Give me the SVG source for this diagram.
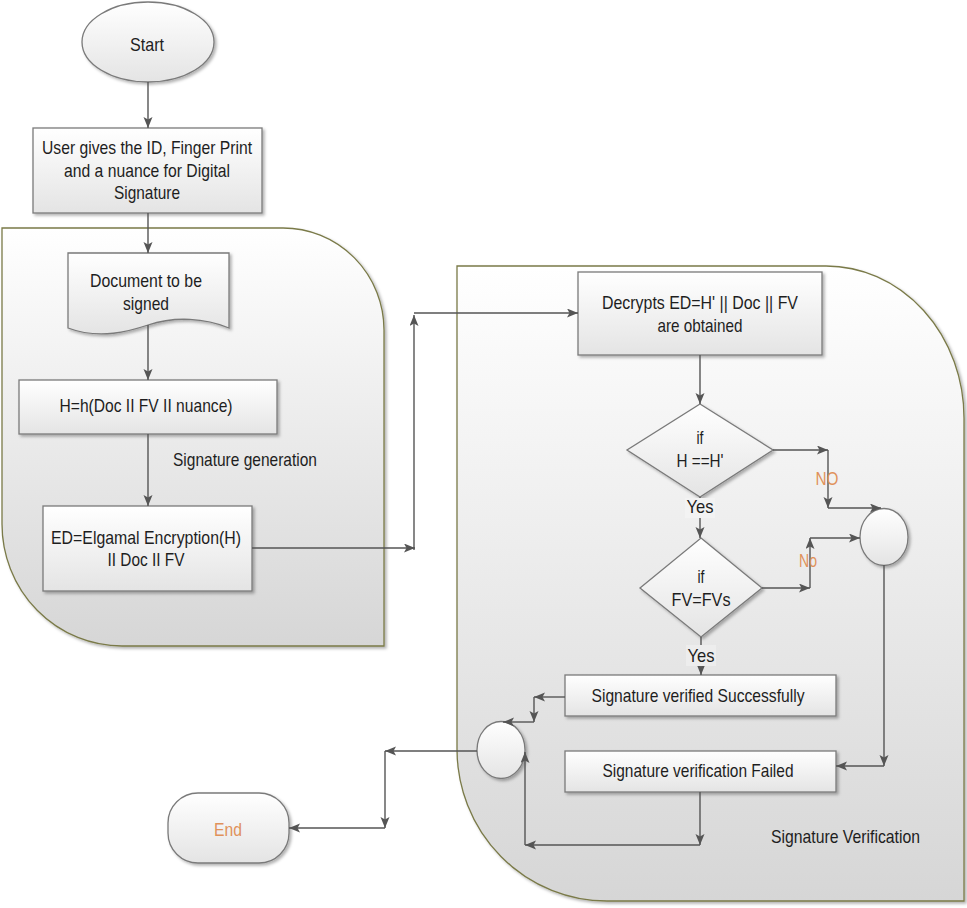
<svg xmlns="http://www.w3.org/2000/svg" width="967" height="908" viewBox="0 0 967 908">
<defs>
<linearGradient id="gRegion" x1="0" y1="0" x2="0" y2="1">
<stop offset="0" stop-color="#ffffff"/>
<stop offset="1" stop-color="#d6d6d6"/>
</linearGradient>
<linearGradient id="gBox" x1="0" y1="0" x2="0" y2="1">
<stop offset="0" stop-color="#ffffff"/>
<stop offset="1" stop-color="#e4e4e4"/>
</linearGradient>
<filter id="sh" x="-10%" y="-10%" width="130%" height="130%">
<feDropShadow dx="2" dy="2" stdDeviation="1.5" flood-color="#000" flood-opacity="0.3"/>
</filter>
<marker id="ah" markerUnits="userSpaceOnUse" markerWidth="12" markerHeight="10" refX="11" refY="4.5" orient="auto">
<path d="M0,0 L11,4.5 L0,9 L2.5,4.5 Z" fill="#555"/>
</marker>
</defs>
<style>
.region{fill:url(#gRegion);stroke:#7a7a48;stroke-width:1.3;filter:url(#sh)}
.box{fill:url(#gBox);stroke:#7a7a7a;stroke-width:1.3;filter:url(#sh)}
.conn path{fill:none;stroke:#555;stroke-width:1.4;marker-end:url(#ah)}
text{font-family:"Liberation Sans Narrow","Liberation Sans",Arial,sans-serif;font-size:19px;fill:#1e1e1e}
.c{text-anchor:middle}
.org{fill:#e0915a}
</style>

<g id="region-generation">
<path class="region" d="M 2 228 H 283 A 101 102 0 0 1 384 330 V 646 H 122 A 120 122 0 0 1 2 524 Z"/>
<text x="173" y="466" textLength="144" lengthAdjust="spacingAndGlyphs">Signature generation</text>
</g>
<g id="region-verification">
<path class="region" d="M 457 266 H 826 A 138 152 0 0 1 964 418 V 901 H 607 A 150 152 0 0 1 457 749 Z"/>
<text x="771" y="843" textLength="149" lengthAdjust="spacingAndGlyphs">Signature Verification</text>
</g>

<g id="start">
<ellipse class="box" cx="148" cy="42" rx="66" ry="40"/>
<text class="c" x="147" y="51" textLength="34" lengthAdjust="spacingAndGlyphs">Start</text>
</g>
<g id="user-input">
<rect class="box" x="33" y="128" width="229" height="85"/>
<text class="c" x="147" y="154" textLength="210" lengthAdjust="spacingAndGlyphs">User gives the ID, Finger Print</text>
<text class="c" x="147" y="177" textLength="166" lengthAdjust="spacingAndGlyphs">and a nuance for Digital</text>
<text class="c" x="147" y="199" textLength="66" lengthAdjust="spacingAndGlyphs">Signature</text>
</g>
<g id="document">
<path class="box" d="M 68 253 H 229 V 328 C 205 318 175 316 148 325 C 130 331 100 340 68 328 Z"/>
<text class="c" x="146" y="287" textLength="112" lengthAdjust="spacingAndGlyphs">Document to be</text>
<text class="c" x="146" y="310" textLength="46" lengthAdjust="spacingAndGlyphs">signed</text>
</g>
<g id="hash">
<rect class="box" x="19" y="380" width="258" height="54"/>
<text class="c" x="146" y="412" textLength="173" lengthAdjust="spacingAndGlyphs">H=h(Doc II FV II nuance)</text>
</g>
<g id="encrypt">
<rect class="box" x="43" y="506" width="209" height="85"/>
<text class="c" x="146" y="544" textLength="190" lengthAdjust="spacingAndGlyphs">ED=Elgamal Encryption(H)</text>
<text class="c" x="146" y="566" textLength="77" lengthAdjust="spacingAndGlyphs">II Doc II FV</text>
</g>
<g id="decrypt">
<rect class="box" x="578" y="272" width="244" height="83"/>
<text class="c" x="700" y="309" textLength="196" lengthAdjust="spacingAndGlyphs">Decrypts ED=H' || Doc || FV</text>
<text class="c" x="700" y="332" textLength="85" lengthAdjust="spacingAndGlyphs">are obtained</text>
</g>
<g id="decision-hash">
<path class="box" d="M 700 404 L 773 450 L 700 497 L 627 450 Z"/>
<text class="c" x="700" y="444" textLength="7" lengthAdjust="spacingAndGlyphs">if</text>
<text class="c" x="700" y="467" textLength="47" lengthAdjust="spacingAndGlyphs">H ==H'</text>
</g>
<g id="decision-fv">
<path class="box" d="M 701 538 L 762 588 L 701 637 L 640 588 Z"/>
<text class="c" x="701" y="583" textLength="7" lengthAdjust="spacingAndGlyphs">if</text>
<text class="c" x="701" y="606" textLength="59" lengthAdjust="spacingAndGlyphs">FV=FVs</text>
</g>
<g id="merge-fail">
<ellipse class="box" cx="884" cy="537" rx="24" ry="28.5"/>
</g>
<g id="success">
<rect class="box" x="565" y="675" width="271" height="41"/>
<text class="c" x="698" y="702" textLength="213" lengthAdjust="spacingAndGlyphs">Signature verified Successfully</text>
</g>
<g id="failed">
<rect class="box" x="565" y="751" width="271" height="41"/>
<text class="c" x="698" y="777" textLength="191" lengthAdjust="spacingAndGlyphs">Signature verification Failed</text>
</g>
<g id="merge-end">
<ellipse class="box" cx="501" cy="750" rx="24" ry="28.5"/>
</g>
<g id="end">
<rect class="box" x="168" y="793" width="121" height="70" rx="30" ry="30"/>
<text class="c org" x="228" y="836" textLength="28" lengthAdjust="spacingAndGlyphs">End</text>
</g>

<g id="connectors" class="conn">
<path d="M 148 82 V 128"/>
<path d="M 148 213 V 253"/>
<path d="M 148 325 V 380"/>
<path d="M 148 434 V 506"/>
<path d="M 252 548 H 415"/>
<path d="M 414 550 V 315"/>
<path d="M 414 313 H 578"/>
<path d="M 700 355 V 404"/>
<path d="M 773 450 H 828"/>
<path d="M 828 450 V 508"/>
<path d="M 828 508 H 881"/>
<path d="M 700 497 V 538"/>
<path d="M 762 588 H 810"/>
<path d="M 810 588 V 538"/>
<path d="M 810 538 H 860"/>
<path d="M 701 637 V 675"/>
<path d="M 884 565 V 766"/>
<path d="M 884 766 H 836"/>
<path d="M 565 697 H 534"/>
<path d="M 534 697 V 722"/>
<path d="M 534 722 H 503"/>
<path d="M 700 792 V 845"/>
<path d="M 700 845 H 525"/>
<path d="M 525 845 V 752"/>
<path d="M 477 751 H 385"/>
<path d="M 385 751 V 828"/>
<path d="M 385 828 H 289"/>
</g>

<g id="labels">
<rect x="685" y="498" width="30" height="20" fill="#f3f3f3"/>
<text class="c" x="700" y="513" textLength="27" lengthAdjust="spacingAndGlyphs">Yes</text>
<rect x="686" y="645" width="30" height="21" fill="#ededed"/>
<text class="c" x="701" y="662" textLength="27" lengthAdjust="spacingAndGlyphs">Yes</text>
<text class="c org" x="827" y="485" textLength="23" lengthAdjust="spacingAndGlyphs">NO</text>
<text class="c org" x="808" y="567" textLength="18" lengthAdjust="spacingAndGlyphs">No</text>
</g>
</svg>
